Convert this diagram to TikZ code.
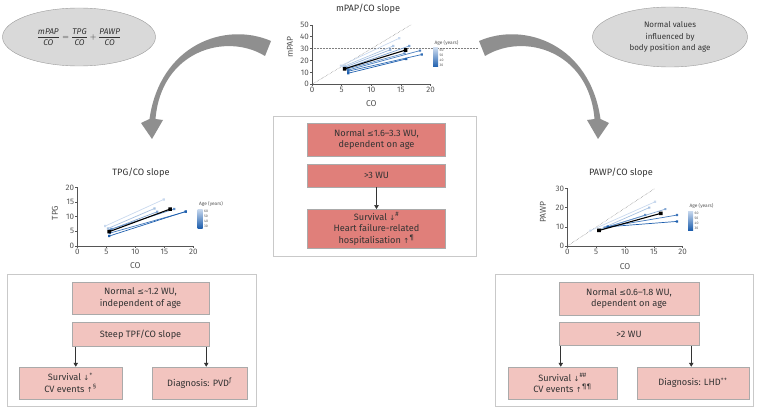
\documentclass[tikz,border=0pt]{standalone}
\usepackage{amsmath}
\usepackage{fontspec}
\setmainfont{Fira Sans}
\newfontfamily\symfont{DejaVu Sans}
\usetikzlibrary{arrows.meta,positioning,calc,shapes.geometric}
\usepackage{xcolor}
\definecolor{ink}{HTML}{333333}
\definecolor{axisgray}{HTML}{555555}
\definecolor{panelline}{HTML}{C9C9C9}
\definecolor{bubble}{HTML}{D9D9D9}
\definecolor{bubbleline}{HTML}{9C9C9C}
\definecolor{swoosh}{HTML}{8F8F8F}
\definecolor{strong}{HTML}{E07F7A}
\definecolor{soft}{HTML}{F2C4BF}
\definecolor{boxline}{HTML}{AAAAAA}
\definecolor{ageold}{HTML}{C9D9EE}
\definecolor{ageyoung}{HTML}{1E5FAE}
\newcommand{\dnarr}{{\symfont\fontsize{7}{8}\selectfont ↓}}
\newcommand{\uparr}{{\symfont\fontsize{7}{8}\selectfont ↑}}
\newcommand{\lesym}{{\symfont\fontsize{8}{8}\selectfont ≤}}
\newcommand{\swooshpath}{(271,41) .. controls (225,21) and (160,45) .. (149.5,119) -- (141,123) -- (152,139) -- (163,120) -- (155.5,119) .. controls (161,51) and (226,32) .. (265,56) -- cycle}
\tikzset{
  >={Triangle[width=4.5pt,length=4pt]},
  every node/.style={text=ink},
  bubble/.style={ellipse,draw=bubbleline,fill=bubble,align=center,inner sep=0pt,font=\fontsize{8}{11.5}\selectfont},
  box/.style={draw=boxline,line width=0.5pt,align=center,inner sep=2pt,font=\fontsize{9.2}{11.5}\selectfont},
  hibox/.style={box,fill=strong,minimum width=138pt},
  lobox/.style={box,fill=soft},
  panel/.style={draw=panelline,line width=0.8pt},
  link/.style={->,draw=ink,line width=0.6pt},
  axisline/.style={draw=axisgray,line width=0.5pt},
  ticklab/.style={font=\fontsize{8}{9}\selectfont,text=axisgray,inner sep=1pt},
  axlab/.style={font=\fontsize{8.5}{9}\selectfont,text=axisgray,inner sep=1pt},
  ctitle/.style={font=\fontsize{9.2}{10}\selectfont,inner sep=1pt},
  refline/.style={densely dotted,draw=gray,line width=0.5pt},
  trend/.style={line width=0.7pt},
  keytitle/.style={font=\fontsize{4.8}{5}\selectfont,text=axisgray,inner sep=0pt},
  keynum/.style={font=\fontsize{3.5}{4}\selectfont,text=axisgray,inner sep=0pt,anchor=west},
  agekey/.pic={
    \node[keytitle] (-title) at (13.5,0) {Age (years)};
    \shade[top color=ageold,bottom color=ageyoung] (0,5) rectangle (5,24);
    \foreach \age [count=\i from 0] in {60,50,40,30}
      \node[keynum] (-n\age) at (6.5,7.5+4.8*\i) {\age};
  },
}

\begin{document}
\begin{tikzpicture}[x=1pt,y=-1pt,node distance=7pt]
\useasboundingbox (0,0) rectangle (758,409);

\node[bubble,minimum width=153pt,minimum height=58pt,font=\fontsize{8.3}{10}\selectfont] (split) at (79,37)
  {$\dfrac{\textit{mPAP}}{\textit{CO}}=\dfrac{\textit{TPG}}{\textit{CO}}+\dfrac{\textit{PAWP}}{\textit{CO}}$};
\node[bubble,minimum width=155pt,minimum height=60pt] (normvals) at (670,37)
  {Normal values\\influenced by\\body position and age};

\fill[swoosh] \swooshpath;
\begin{scope}[xshift=750pt,xscale=-1]
  \fill[swoosh] \swooshpath;
\end{scope}

% mPAP/CO chart
\node[ctitle] (mpaptitle) at (368,9) {mPAP/CO slope};
\begin{scope}[shift={(312,84.3)},x=5.93pt,y=1.19pt]
  \draw[refline] (0,0) -- (16.7,50);
  \draw[refline] (0,30) -- (28,30);
  \foreach \xa/\ya/\xb/\yb/\tone in {4.9/15.7/14.7/38.7/0,5.3/15/13.7/32.2/15,5.6/14.5/13.2/29/30,
      6/14/16.4/32.2/45,6/13/15.6/26/60,6.1/12/18.2/28.3/75,6.1/11/18.5/25/88,6.1/9.3/15.9/21.3/100}
    {\draw[trend,draw=ageyoung!\tone!ageold] (\xa,\ya) -- (\xb,\yb);
     \fill[ageyoung!\tone!ageold] (\xa,\ya) ++(-1.1pt,-1.1pt) rectangle ++(2.2pt,2.2pt)
       (\xb,\yb) ++(-1.1pt,-1.1pt) rectangle ++(2.2pt,2.2pt);}
  \draw[trend,line width=1.1pt] (5.5,13) -- (15.8,28.8);
  \fill (5.5,13) ++(-1.8pt,-1.8pt) rectangle ++(3.6pt,3.6pt)
    (15.8,28.8) ++(-1.8pt,-1.8pt) rectangle ++(3.6pt,3.6pt);
  \draw[axisline] (0,50) -- (0,0) -- (20,0);
  \foreach \val in {0,10,...,50}
    \draw[axisline] (0,\val) -- ++(-2pt,0) node[ticklab,left] (mpapy\val) {\val};
  \foreach \val in {0,5,...,20}
    \draw[axisline] (\val,0) -- ++(0,-2pt) node[ticklab,below] (mpapx\val) {\val};
  \node[axlab] (mpapco) at (10,0) [yshift=-19.5pt] {CO};
\end{scope}
\node[axlab,rotate=90] (mpapname) at (290,47) {mPAP};
\pic (mpapkey) at (433,43) {agekey};

% TPG/CO chart
\node[ctitle] (tpgtitle) at (141,173) {TPG/CO slope};
\begin{scope}[shift={(77.3,246)},x=5.8pt,y=2.93pt]
  \foreach \xa/\ya/\xb/\yb/\tone in {4.8/6.8/14.9/15.9/0,5.3/6/13.3/12.8/20,5.6/5.5/13.8/11.7/40,
      5.9/5.8/16.7/12.6/60,5.6/4.4/18.7/11.7/80,5.5/3.4/18.7/11.8/100}
    {\draw[trend,draw=ageyoung!\tone!ageold] (\xa,\ya) -- (\xb,\yb);
     \fill[ageyoung!\tone!ageold] (\xa,\ya) ++(-1.1pt,-1.1pt) rectangle ++(2.2pt,2.2pt)
       (\xb,\yb) ++(-1.1pt,-1.1pt) rectangle ++(2.2pt,2.2pt);}
  \draw[trend,line width=1.1pt] (5.5,4.9) -- (16,12.6);
  \fill (5.5,4.9) ++(-1.8pt,-1.8pt) rectangle ++(3.6pt,3.6pt)
    (16,12.6) ++(-1.8pt,-1.8pt) rectangle ++(3.6pt,3.6pt);
  \draw[axisline] (0,20) -- (0,0) -- (20,0);
  \foreach \val in {0,5,...,20}
    \draw[axisline] (0,\val) -- ++(-2pt,0) node[ticklab,left] (tpgy\val) {\val};
  \foreach \val in {0,5,...,20}
    \draw[axisline] (\val,0) -- ++(0,-2pt) node[ticklab,below] (tpgx\val) {\val};
  \node[axlab] (tpgco) at (10,0) [yshift=-20pt] {CO};
\end{scope}
\node[axlab,rotate=90] (tpgname) at (55,213) {TPG};
\pic (tpgkey) at (197.5,204) {agekey};

% PAWP/CO chart
\node[ctitle] (pawptitle) at (621,173) {PAWP/CO slope};
\begin{scope}[shift={(567.3,246)},x=5.77pt,y=1.92pt]
  \draw[refline] (0,0) -- (15.2,30);
  \foreach \xa/\ya/\xb/\yb/\tone in {4/8/15.2/23/0,5.5/8.5/14.2/20/20,6.5/9.5/17/19.2/40,
      6.5/9.5/13.5/16.1/60,7/10/19/16.1/80,7/10/19/12.8/100}
    {\draw[trend,draw=ageyoung!\tone!ageold] (\xa,\ya) -- (\xb,\yb);
     \fill[ageyoung!\tone!ageold] (\xa,\ya) ++(-1.1pt,-1.1pt) rectangle ++(2.2pt,2.2pt)
       (\xb,\yb) ++(-1.1pt,-1.1pt) rectangle ++(2.2pt,2.2pt);}
  \draw[trend,line width=1.1pt] (5.5,8.1) -- (16.2,17);
  \fill (5.5,8.1) ++(-1.8pt,-1.8pt) rectangle ++(3.6pt,3.6pt)
    (16.2,17) ++(-1.8pt,-1.8pt) rectangle ++(3.6pt,3.6pt);
  \draw[axisline] (0,30) -- (0,0) -- (20,0);
  \foreach \val in {0,10,20,30}
    \draw[axisline] (0,\val) -- ++(-2pt,0) node[ticklab,left] (pawpy\val) {\val};
  \foreach \val in {0,5,...,20}
    \draw[axisline] (\val,0) -- ++(0,-2pt) node[ticklab,below] (pawpx\val) {\val};
  \node[axlab] (pawpco) at (10,0) [yshift=-20.5pt] {CO};
\end{scope}
\node[axlab,rotate=90] (pawpname) at (543,212) {PAWP};
\pic (pawpkey) at (688,206) {agekey};

% panels
\draw[panel] (273,116.7) rectangle (476,256);
\draw[panel] (7,274) rectangle (256,406);
\draw[panel] (495,274) rectangle (753,406);

\node[hibox,minimum height=32.7pt] (cnorm) at (376.5,139.7) {Normal \lesym1.6–3.3 WU,\\dependent on age};
\node[hibox,minimum height=23.4pt,below=7.3pt of cnorm] (cwu) {>3 WU};
\node[hibox,minimum height=39pt,below=21.6pt of cwu] (cout) {Survival \dnarr\textsuperscript{\#}\\Heart failure-related\\hospitalisation \uparr\textsuperscript{¶}};
\draw[link] (cwu) -- (cout);

\node[lobox,minimum width=137pt,minimum height=32pt] (tnorm) at (140.5,298) {Normal \lesym\textasciitilde1.2 WU,\\independent of age};
\node[lobox,minimum width=137pt,minimum height=24pt,below=8pt of tnorm] (tsteep) {Steep TPF/CO slope};
\node[lobox,minimum width=103pt,minimum height=32pt] (tout) at (70.5,383) {Survival \dnarr\textsuperscript{+}\\CV events \uparr\textsuperscript{§}};
\node[lobox,minimum width=95pt,minimum height=32pt] (tdiag) at (199.5,383) {Diagnosis: PVD\textsuperscript{ƒ}};
\draw[link] ([xshift=4pt]tsteep.south west) coordinate (tsa) -- (tsa |- tout.north);
\draw[link] ([xshift=-3pt]tsteep.south east) coordinate (tsb) -- (tsb |- tdiag.north);

\node[lobox,minimum width=140pt,minimum height=33pt] (pnorm) at (629,298.5) {Normal \lesym0.6–1.8 WU,\\dependent on age};
\node[lobox,minimum width=140pt,minimum height=23pt,below=7pt of pnorm] (pwu) {>2 WU};
\node[lobox,minimum width=109pt,minimum height=32pt] (pout) at (562.5,383) {Survival \dnarr\textsuperscript{\#\#}\\CV events \uparr\textsuperscript{¶¶}};
\node[lobox,minimum width=112pt,minimum height=32pt] (pdiag) at (693,383) {Diagnosis: LHD\textsuperscript{++}};
\draw[link] ([xshift=2pt]pwu.south west) coordinate (psa) -- (psa |- pout.north);
\draw[link] ([xshift=-8pt]pwu.south east) coordinate (psb) -- (psb |- pdiag.north);
\end{tikzpicture}
\end{document}
